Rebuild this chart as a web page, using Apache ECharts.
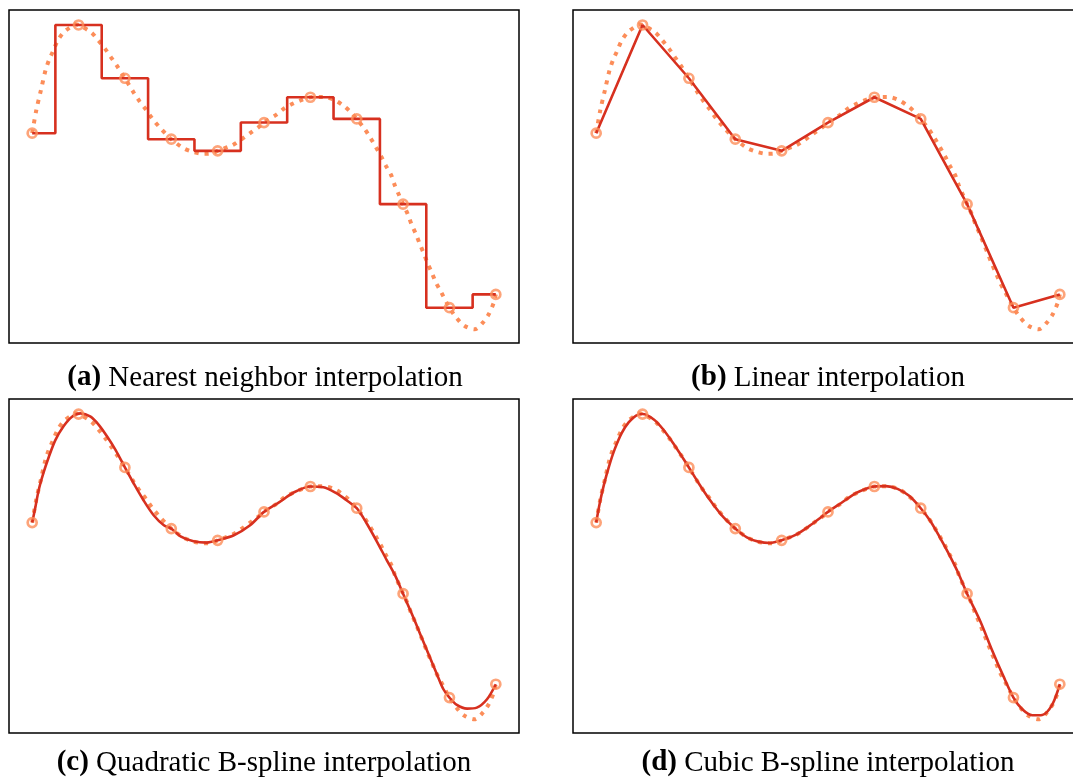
<!DOCTYPE html>
<html>
<head>
<meta charset="utf-8">
<title>Interpolation</title>
<script src="https://cdn.jsdelivr.net/npm/echarts@6/dist/echarts.min.js"></script>
<style>
html, body { margin: 0; padding: 0; background: #fff; }
#chart { width: 1073px; height: 781px; }
</style>
</head>
<body>
<div id="chart"></div>
<script>
// sample points
const sampleX = [0, 1, 2, 3, 4, 5, 6, 7, 8, 9, 10];
const sampleY = [63.0, 95.5, 79.5, 61.2, 57.7, 66.2, 73.8, 67.3, 41.7, 10.6, 14.6];

// true function (dotted)
const trueX = [0, 0.09, 0.19, 0.29, 0.37, 0.44, 0.55, 0.68, 0.84, 0.92, 1.0, 1.27, 1.42, 1.57, 1.70, 1.83, 2.0,
  2.19, 2.32, 2.46, 2.59, 2.74, 2.89, 3.0, 3.25, 3.46, 3.69, 3.9, 4.0, 4.32, 4.5, 4.7, 4.9, 5.0, 5.27, 5.44,
  5.64, 5.85, 6.0, 6.28, 6.52, 6.72, 6.88, 7.0, 7.17, 7.29, 7.41, 7.52, 7.63, 7.74, 7.82, 7.91, 8.0, 8.1,
  8.18, 8.27, 8.35, 8.44, 8.53, 8.62, 8.71, 8.82, 9.0, 9.16, 9.32, 9.54, 9.72, 9.85, 9.95, 10.0];
const trueY = [63.0, 70.0, 76.0, 82.0, 85.2, 87.3, 90.8, 93.3, 95.0, 95.7, 95.5, 93.3, 91.0, 88.4, 85.8, 83.2, 79.5,
  75.2, 72.5, 70.0, 67.4, 64.9, 62.7, 61.2, 58.6, 57.4, 56.8, 57.0, 57.7, 59.4, 61.0, 63.0, 65.0, 66.3, 68.6, 70.5,
  72.0, 73.2, 73.8, 73.9, 73.0, 71.2, 69.2, 67.3, 64.3, 61.7, 58.9, 56.2, 53.2, 50.5, 47.4, 44.5, 41.7, 38.7,
  35.7, 32.9, 30.1, 27.1, 23.9, 21.1, 18.1, 15.3, 10.6, 7.4, 5.2, 4.1, 6.1, 8.7, 11.9, 14.6];

// quadratic B-spline
const quadX = [0, 0.07, 0.14, 0.24, 0.36, 0.5, 0.68, 0.86, 1.04, 1.26, 1.44, 1.62, 1.8, 2.0, 2.19, 2.4, 2.62,
  2.84, 3.0, 3.2, 3.48, 3.77, 4.0, 4.35, 4.7, 5.0, 5.34, 5.64, 6.0, 6.28, 6.56, 6.78, 7.0, 7.2, 7.42, 7.65,
  7.83, 8.0, 8.19, 8.37, 8.55, 8.73, 8.87, 9.0, 9.16, 9.38, 9.59, 9.81, 10.0];
const quadY = [63.0, 67.7, 72.7, 77.7, 82.7, 87.7, 91.9, 94.7, 95.7, 94.7, 92.2, 88.7, 84.7, 79.5, 74.7, 69.7, 65.2,
  62.2, 61.2, 58.9, 57.4, 57.0, 57.7, 59.2, 62.2, 66.2, 69.2, 72.0, 73.8, 73.6, 71.8, 69.7, 67.3, 63.1, 57.7, 51.7,
  47.1, 41.7, 35.6, 29.6, 23.6, 17.6, 13.1, 10.6, 8.4, 7.3, 7.6, 10.1, 14.6];

// cubic B-spline
const cubicX = [0, 0.08, 0.17, 0.28, 0.4, 0.55, 0.7, 0.86, 1.0, 1.25, 1.45, 1.65, 1.83, 2.0, 2.2, 2.45, 2.7, 2.9,
  3.0, 3.25, 3.5, 3.75, 4.0, 4.3, 4.6, 4.85, 5.0, 5.3, 5.6, 5.85, 6.0, 6.25, 6.5, 6.75, 7.0, 7.2, 7.4, 7.6, 7.8,
  8.0, 8.28, 8.53, 8.78, 9.0, 9.19, 9.41, 9.62, 9.84, 10.0];
const cubicY = [63.0, 69.0, 74.5, 80.0, 85.0, 89.8, 93.0, 95.0, 95.5, 93.8, 90.8, 87.0, 83.2, 79.5, 75.0, 69.8, 65.3, 62.5,
  61.2, 58.6, 57.3, 56.9, 57.7, 59.3, 62.0, 64.6, 66.2, 69.0, 71.8, 73.3, 73.8, 73.9, 73.1, 71.0, 67.3, 63.6, 58.9, 53.8, 48.2,
  41.7, 33.6, 25.1, 17.1, 10.6, 7.1, 5.3, 5.4, 8.6, 14.6];

const captions = ['Nearest neighbor interpolation', 'Linear interpolation',
  'Quadratic B-spline interpolation', 'Cubic B-spline interpolation'];
const tags = ['(a)', '(b)', '(c)', '(d)'];

const zip = (xs, ys) => xs.map((x, i) => [x, ys[i]]);

const RED = '#d7301f';
const ORANGE = '#fc8d59';

const panels = [
  { left: 9, top: 10, height: 333, cx: 265, cy: 378 },
  { left: 573, top: 10, height: 333, cx: 828, cy: 378 },
  { left: 9, top: 399, height: 334, cx: 264, cy: 763 },
  { left: 573, top: 399, height: 334, cx: 828, cy: 763 }
];

const interp = [
  { data: zip(sampleX, sampleY), step: 'middle', smooth: false },
  { data: zip(sampleX, sampleY), smooth: false },
  { data: zip(quadX, quadY), smooth: 0.3 },
  { data: zip(cubicX, cubicY), smooth: 0.3 }
];

let grids = [], xAxes = [], yAxes = [], series = [], graphics = [];

panels.forEach((p, i) => {
  grids.push({
    left: p.left, top: p.top, width: 510, height: p.height,
    show: true, borderColor: '#000', borderWidth: 1.5, backgroundColor: 'transparent',
    outerBoundsMode: 'none', containLabel: false
  });
  xAxes.push({
    type: 'value', gridIndex: i, min: -0.5, max: 10.5,
    axisLine: { show: false }, axisTick: { show: false }, axisLabel: { show: false }, splitLine: { show: false }
  });
  yAxes.push({
    type: 'value', gridIndex: i, min: 0, max: 100,
    axisLine: { show: false }, axisTick: { show: false }, axisLabel: { show: false }, splitLine: { show: false }
  });
  series.push({
    type: 'line', xAxisIndex: i, yAxisIndex: i,
    data: zip(trueX, trueY), smooth: 0.3, showSymbol: false, symbol: 'none',
    lineStyle: { color: ORANGE, width: 4, type: [4, 6], cap: 'butt' },
    z: 1
  });
  series.push({
    type: 'line', xAxisIndex: i, yAxisIndex: i,
    data: interp[i].data, step: interp[i].step || false, smooth: interp[i].smooth,
    showSymbol: false, symbol: 'none',
    lineStyle: { color: RED, width: 2.6 },
    z: 2
  });
  series.push({
    type: 'scatter', xAxisIndex: i, yAxisIndex: i,
    data: zip(sampleX, sampleY), symbol: 'circle', symbolSize: 9,
    itemStyle: { color: 'rgba(0,0,0,0)', borderColor: ORANGE, borderWidth: 2.7 },
    z: 3
  });
  graphics.push({
    type: 'text', x: p.cx, y: p.cy,
    style: {
      text: '{b|' + tags[i] + '} ' + captions[i],
      fontSize: 29, fontFamily: 'Liberation Serif', fill: '#000',
      align: 'center', verticalAlign: 'middle',
      textAlign: 'center', textVerticalAlign: 'middle',
      rich: { b: { fontSize: 29, fontFamily: 'Liberation Serif', fontWeight: 'bold', fill: '#000' } }
    }
  });
});

let myChart = echarts.init(document.getElementById('chart'));
myChart.setOption({
  animation: false,
  backgroundColor: '#fff',
  grid: grids,
  xAxis: xAxes,
  yAxis: yAxes,
  series: series,
  graphic: graphics
});
</script>
</body>
</html>
